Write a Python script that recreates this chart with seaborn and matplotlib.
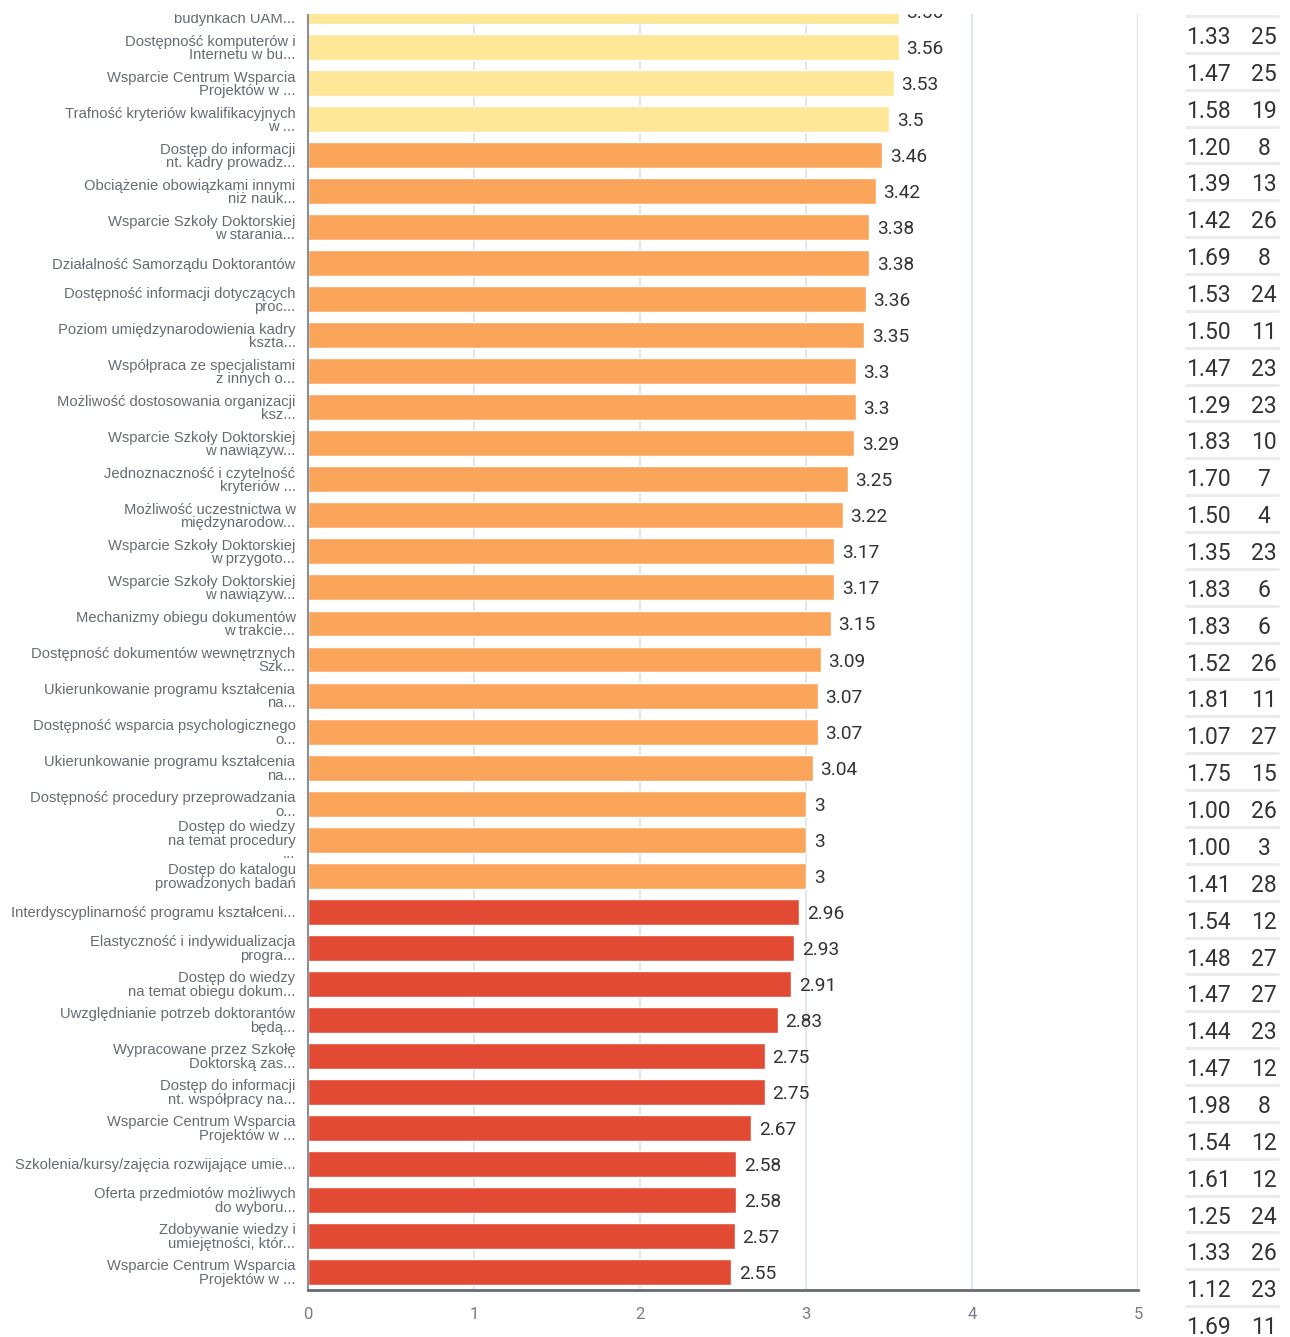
import numpy as np
import pandas as pd
import seaborn as sns
import matplotlib.pyplot as plt
from matplotlib.patches import Rectangle
from matplotlib.lines import Line2D

# Survey items (truncated as shown on the axis), top to bottom
labels = [
    "Dostępność pomieszczeń w\nbudynkach UAM...",
    "Dostępność komputerów i\nInternetu w bu...",
    "Wsparcie Centrum Wsparcia\nProjektów w ...",
    "Trafność kryteriów kwalifikacyjnych\nw ...",
    "Dostęp do informacji\nnt. kadry prowadz...",
    "Obciążenie obowiązkami innymi\nniż nauk...",
    "Wsparcie Szkoły Doktorskiej\nw starania...",
    "Działalność Samorządu Doktorantów",
    "Dostępność informacji dotyczących\nproc...",
    "Poziom umiędzynarodowienia kadry\nkszta...",
    "Współpraca ze specjalistami\nz innych o...",
    "Możliwość dostosowania organizacji\nksz...",
    "Wsparcie Szkoły Doktorskiej\nw nawiązyw...",
    "Jednoznaczność i czytelność\nkryteriów ...",
    "Możliwość uczestnictwa w\nmiędzynarodow...",
    "Wsparcie Szkoły Doktorskiej\nw przygoto...",
    "Wsparcie Szkoły Doktorskiej\nw nawiązyw...",
    "Mechanizmy obiegu dokumentów\nw trakcie...",
    "Dostępność dokumentów wewnętrznych\nSzk...",
    "Ukierunkowanie programu kształcenia\nna...",
    "Dostępność wsparcia psychologicznego\no...",
    "Ukierunkowanie programu kształcenia\nna...",
    "Dostępność procedury przeprowadzania\no...",
    "Dostęp do wiedzy\nna temat procedury\n...",
    "Dostęp do katalogu\nprowadzonych badań",
    "Interdyscyplinarność programu kształceni...",
    "Elastyczność i indywidualizacja\nprogra...",
    "Dostęp do wiedzy\nna temat obiegu dokum...",
    "Uwzględnianie potrzeb doktorantów\nbędą...",
    "Wypracowane przez Szkołę\nDoktorską zas...",
    "Dostęp do informacji\nnt. współpracy na...",
    "Wsparcie Centrum Wsparcia\nProjektów w ...",
    "Szkolenia/kursy/zajęcia rozwijające umie...",
    "Oferta przedmiotów możliwych\ndo wyboru...",
    "Zdobywanie wiedzy i\numiejętności, któr...",
    "Wsparcie Centrum Wsparcia\nProjektów w ...",
]

# Mean rating per item
means = [3.56, 3.56, 3.53, 3.5, 3.46, 3.42, 3.38, 3.38, 3.36, 3.35, 3.3, 3.3,
         3.29, 3.25, 3.22, 3.17, 3.17, 3.15, 3.09, 3.07, 3.07, 3.04, 3, 3, 3,
         2.96, 2.93, 2.91, 2.83, 2.75, 2.75, 2.67, 2.58, 2.58, 2.57, 2.55]

# Side table: standard deviation and number of answers
std_dev = [1.33, 1.47, 1.58, 1.20, 1.39, 1.42, 1.69, 1.53, 1.50, 1.47, 1.29, 1.83,
           1.70, 1.50, 1.35, 1.83, 1.83, 1.52, 1.81, 1.07, 1.75, 1.00, 1.00, 1.41,
           1.54, 1.48, 1.47, 1.44, 1.47, 1.98, 1.54, 1.61, 1.25, 1.33, 1.12, 1.69]
n_resp = [25, 25, 19, 8, 13, 26, 8, 24, 11, 23, 23, 10, 7, 4, 23, 6, 6, 26, 11, 27,
          15, 26, 3, 28, 12, 27, 27, 23, 12, 8, 12, 12, 24, 26, 23, 11]

x_ticks = [0, 1, 2, 3, 4, 5]

W, H, DPI = 1290, 1337, 100

sns.set_theme(style="white")
plt.rcParams["font.family"] = ["Roboto", "DejaVu Sans"]


def band(v):
    if v >= 3.5:
        return "high"
    if v >= 3.0:
        return "mid"
    return "low"


df = pd.DataFrame({"row": np.arange(len(means)), "mean": means})
df["band"] = [band(v) for v in means]
palette = {"high": "#FEE797", "mid": "#FBA55B", "low": "#E34A33"}


def fx(px):
    return px / W


def fy(py):
    return 1 - py / H


fig = plt.figure(figsize=(W / DPI, H / DPI), dpi=DPI)
ax_top, ax_bottom, ax_left, ax_right = -7, 1290, 308, 1138
ax = fig.add_axes([fx(ax_left), fy(ax_bottom), (ax_right - ax_left) / W,
                   (ax_bottom - ax_top) / H])

sns.barplot(data=df, x="mean", y="row", hue="band", palette=palette,
            orient="h", dodge=False, width=0.72, saturation=1,
            legend=False, ax=ax)

ax.set_ylim(len(means) - 0.5, -0.5)
ax.set_xlim(x_ticks[0], x_ticks[-1])
ax.set_xlabel("")
ax.set_ylabel("")

# Category labels at bar centres, small ticks between bars
ax.set_yticks(np.arange(len(labels)))
ax.set_yticklabels(labels, fontfamily=["Liberation Sans", "DejaVu Sans"],
                   fontsize=10.6, color="#666a73", linespacing=0.95)
ax.tick_params(axis="y", which="major", length=0, pad=9)
ax.set_yticks(np.arange(-0.5, len(labels), 1), minor=True)
ax.tick_params(axis="y", which="minor", length=6, width=1.2, color="#8a8f99")
for t in ax.get_yticklabels():
    t.set_va("center_baseline") if "\n" not in t.get_text() else None

ax.set_xticks(x_ticks)
ax.set_xticklabels([str(t) for t in x_ticks], fontsize=12, color="#777b84")
ax.tick_params(axis="x", length=0, pad=12)

ax.xaxis.grid(True, color="#dde3ee", lw=1.3)
ax.yaxis.grid(False)
ax.set_axisbelow(True)

for side in ("top", "right"):
    ax.spines[side].set_visible(False)
ax.spines["left"].set_color("#8a8f99")
ax.spines["left"].set_linewidth(1.5)
ax.spines["bottom"].set_color("#666a73")
ax.spines["bottom"].set_linewidth(2)

for cont in ax.containers:
    texts = ax.bar_label(cont, fmt="{:g}", padding=5.5, fontsize=13.8,
                         color="#333333")
    for t in texts:
        t.set_va("center_baseline")

# Side table with std. deviation and count
row0, row_step = 35, 36.86
for i, (s, n) in enumerate(zip(std_dev, n_resp)):
    yc = row0 + i * row_step
    fig.text(fx(1208), fy(yc), f"{s:.2f}", ha="center", va="center_baseline",
             fontsize=16.5, color="#333333")
    fig.text(fx(1264), fy(yc), f"{n}", ha="center", va="center_baseline",
             fontsize=16.5, color="#333333")
    ysep = 16 + i * row_step
    fig.add_artist(Line2D([fx(1186), fx(1278)], [fy(ysep), fy(ysep)],
                          transform=fig.transFigure, color="#ebebeb", lw=2.2))

# Scrolled viewport: hide everything above the visible window
fig.add_artist(Rectangle((0, fy(14)), 1, 14 / H, transform=fig.transFigure,
                         facecolor="white", edgecolor="none", zorder=100))

fig.savefig("out.png", dpi=DPI)
